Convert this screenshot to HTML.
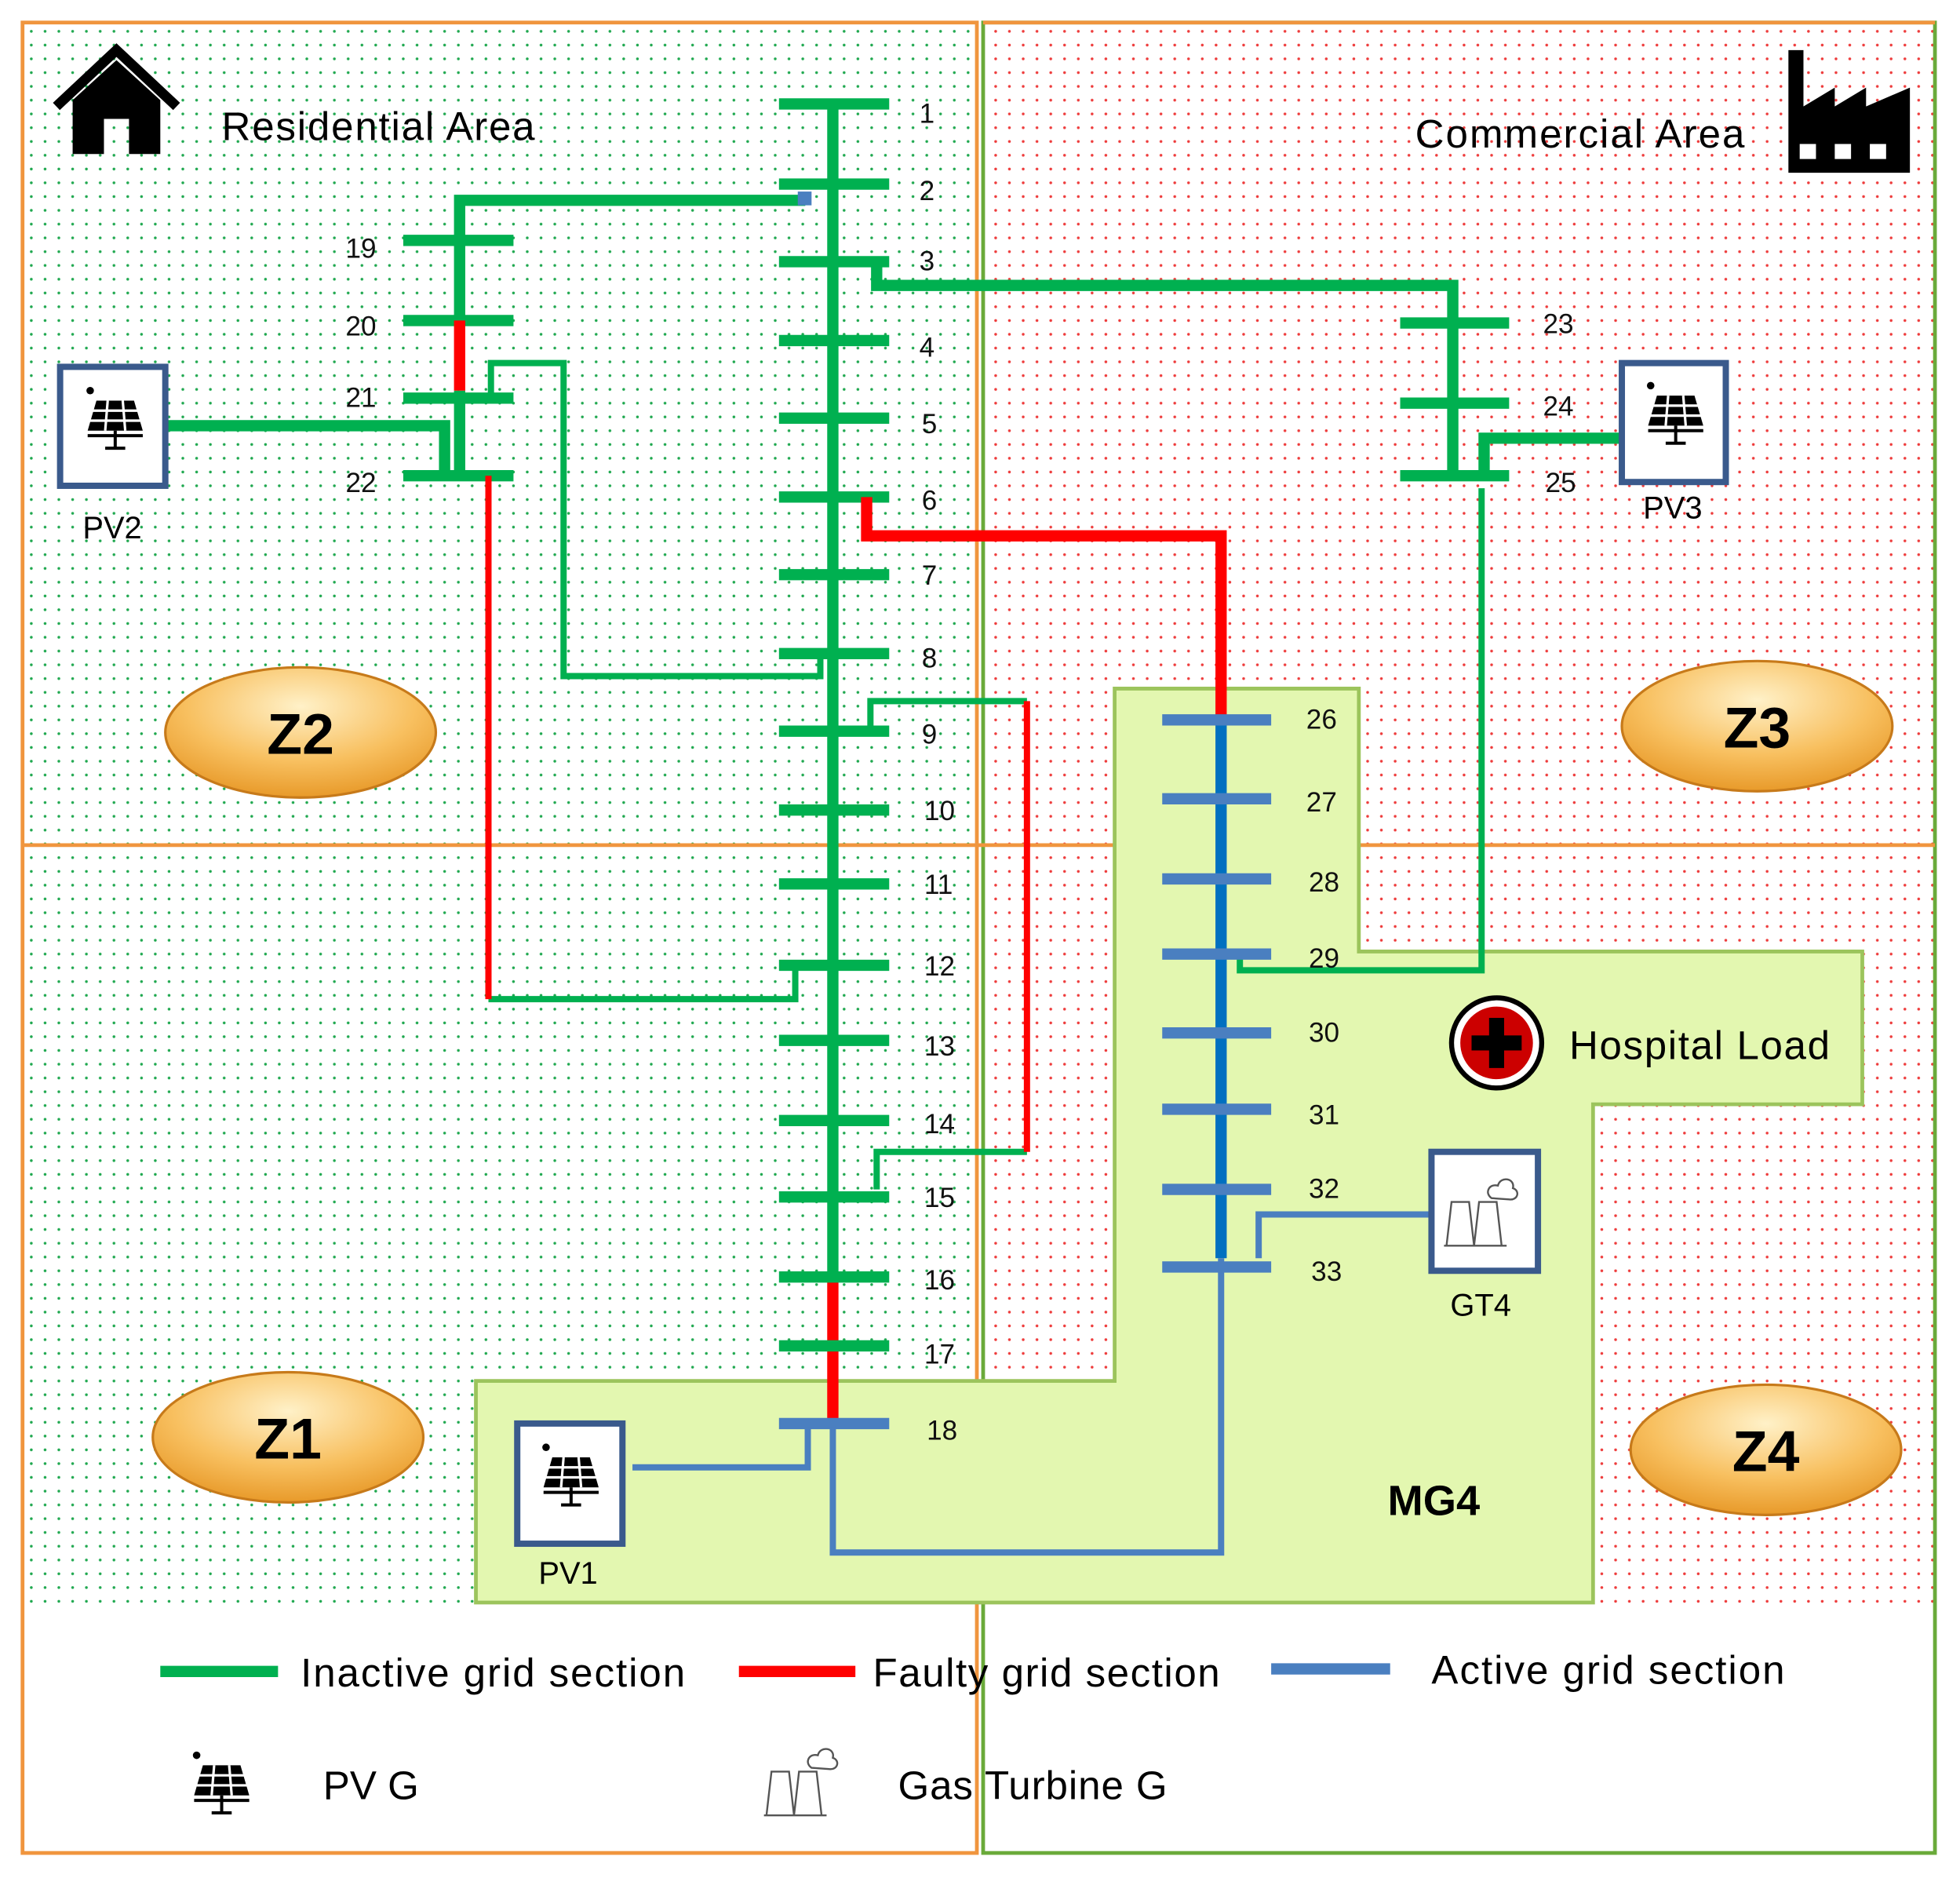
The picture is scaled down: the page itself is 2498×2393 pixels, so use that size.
<!DOCTYPE html>
<html><head><meta charset="utf-8"><style>
html,body{margin:0;padding:0;background:#fff}
svg{display:block}
text{font-family:"Liberation Sans",sans-serif}
</style></head><body>
<svg width="2498" height="2393" viewBox="0 0 1565 1500" preserveAspectRatio="none" xmlns="http://www.w3.org/2000/svg">
<defs>
<pattern id="gd" width="11" height="11" patternUnits="userSpaceOnUse"><rect width="11" height="11" fill="#fff"/><circle cx="3" cy="3" r="1.1" fill="#1fa84f"/></pattern>
<pattern id="rd" width="11" height="11" patternUnits="userSpaceOnUse"><rect width="11" height="11" fill="#fff"/><circle cx="3" cy="3" r="1.1" fill="#ee3b3b"/></pattern>
<radialGradient id="og" cx="50%" cy="30%" r="70%"><stop offset="0" stop-color="#fff1c8"/><stop offset="0.6" stop-color="#f8c060"/><stop offset="1" stop-color="#e89a2a"/></radialGradient>
<g id="pv"><circle cx="-20" cy="-20" r="3" fill="#000"/><path d="M-15,-12 L15,-12 L22,12 L-22,12 Z" fill="#000"/><path d="M-18,-4 H18 M-20,4 H20 M-6,-12 L-8,12 M6,-12 L8,12" stroke="#fff" stroke-width="2"/><path d="M-22,16 H22 M0,12 V26 M-8,26 H8" stroke="#000" stroke-width="2.5"/></g>
<g id="gt" fill="none" stroke="#555" stroke-width="1.5"><path d="M-28,30 L-24,-5 L-10,-5 L-6,30 M-6,30 L-2,-5 L12,-5 L16,30 M-30,30 H20"/><path d="M8,-8 c-6,-4 -2,-12 5,-10 c2,-8 14,-6 12,2 c6,2 4,10 -3,9 Z"/></g>
</defs>
<rect x="18" y="18" width="762" height="657" fill="url(#gd)"/>
<rect x="18" y="675" width="762" height="610" fill="url(#gd)"/>
<rect x="785" y="18" width="760" height="657" fill="url(#rd)"/>
<rect x="785" y="675" width="760" height="610" fill="url(#rd)"/>
<rect x="18" y="1285" width="1527" height="195" fill="#fff"/>
<rect x="18" y="18" width="762" height="1462" fill="none" stroke="#f0953e" stroke-width="3"/>
<rect x="785" y="18" width="760" height="1462" fill="none" stroke="#6aaa3a" stroke-width="3"/>
<line x1="785" y1="18" x2="1545" y2="18" stroke="#f0953e" stroke-width="3"/>
<line x1="18" y1="675" x2="1545" y2="675" stroke="#f0953e" stroke-width="3"/>
<polygon points="890,550 1085,550 1085,760 1487,760 1487,882 1272,882 1272,1280 380,1280 380,1103 890,1103" fill="#e3f7b0" stroke="#9cc45c" stroke-width="3"/>
<path d="M45,85 L93,40 L141,85" fill="none" stroke="#000" stroke-width="8"/>
<path d="M58,80 L93,48 L128,80 V123 H103 V95 H83 V123 H58 Z" fill="#000"/>
<text x="177" y="112" font-size="32" textLength="250">Residential Area</text>
<path d="M1428,40 H1440 V85 L1465,70 V85 L1490,70 V85 L1525,70 V138 H1428 Z" fill="#000"/>
<rect x="1437" y="115" width="13" height="12" fill="#fff"/><rect x="1465" y="115" width="13" height="12" fill="#fff"/><rect x="1493" y="115" width="13" height="12" fill="#fff"/>
<text x="1130" y="118" font-size="32" textLength="263">Commercial Area</text>
<g fill="none" stroke-linecap="butt">
<line x1="665" y1="83" x2="665" y2="1020" stroke="#00b050" stroke-width="9"/>
<line x1="665" y1="1020" x2="665" y2="1137" stroke="#ff0000" stroke-width="9"/>
<g stroke="#00b050" stroke-width="9">
<path d="M622,83H710M622,147H710M622,209H710M622,272H710M622,334H710M622,397H710M622,459H710M622,522H710M622,584H710M622,647H710M622,706H710M622,771H710M622,831H710M622,895H710M622,956H710M622,1020H710M622,1075H710"/>
<path d="M643,160H367V256"/>
<path d="M322,192H410M322,256H410M322,318H410M322,380H410"/>
<path d="M367,312V380"/>
<path d="M132,340H355V380"/>
<path d="M700,209V228H1160V380"/>
<path d="M1118,258H1205M1118,322H1205M1118,380H1205"/>
<path d="M1295,350H1185V380"/>
</g>
<line x1="367" y1="256" x2="367" y2="312" stroke="#ff0000" stroke-width="9"/>
<rect x="637" y="153" width="11" height="11" fill="#4a7fc0" stroke="none"/>
<path d="M622,1137H710" stroke="#4a7fc0" stroke-width="9"/>
<g stroke="#00b050" stroke-width="5">
<path d="M392,318V290H450V540H655V525"/>
<path d="M390,798H635V771"/>
<path d="M695,584V560H820"/>
<path d="M820,920H700V950"/>
<path d="M1183,390V775H990V765"/>
</g>
<g stroke="#ff0000" stroke-width="5"><path d="M390,380V798"/><path d="M820,560V920"/></g>
<path d="M692,397V428H975V575" stroke="#ff0000" stroke-width="9"/>
<line x1="975" y1="575" x2="975" y2="1005" stroke="#0070c0" stroke-width="9"/>
<g stroke="#4a7fc0" stroke-width="9"><path d="M928,575H1015M928,638H1015M928,702H1015M928,762H1015M928,825H1015M928,886H1015M928,950H1015M928,1012H1015"/></g>
<g stroke="#4a7fc0" stroke-width="5">
<path d="M975,1005V1240H665V1140"/>
<path d="M505,1172H645V1140"/>
<path d="M1143,970H1005V1005"/>
</g>
</g>
<g font-size="22" fill="#111">
<text x="734" y="98">1</text><text x="734" y="160">2</text><text x="734" y="216">3</text><text x="734" y="285">4</text><text x="736" y="346">5</text><text x="736" y="407">6</text><text x="736" y="467">7</text><text x="736" y="533">8</text><text x="736" y="594">9</text><text x="738" y="655">10</text><text x="738" y="714">11</text><text x="738" y="779">12</text><text x="738" y="843">13</text><text x="738" y="905">14</text><text x="738" y="964">15</text><text x="738" y="1030">16</text><text x="738" y="1089">17</text><text x="740" y="1150">18</text>
<text x="276" y="206">19</text><text x="276" y="268">20</text><text x="276" y="325">21</text><text x="276" y="393">22</text>
<text x="1232" y="266">23</text><text x="1232" y="332">24</text><text x="1234" y="393">25</text>
<text x="1043" y="582">26</text><text x="1043" y="648">27</text><text x="1045" y="712">28</text><text x="1045" y="773">29</text><text x="1045" y="832">30</text><text x="1045" y="898">31</text><text x="1045" y="957">32</text><text x="1047" y="1023">33</text>
</g>
<rect x="48" y="293" width="84" height="95" fill="#fff" stroke="#3a5a8c" stroke-width="5"/><use href="#pv" x="92" y="332"/>
<text x="66" y="430" font-size="25">PV2</text>
<rect x="1295" y="290" width="83" height="95" fill="#fff" stroke="#3a5a8c" stroke-width="5"/><use href="#pv" x="1338" y="328"/>
<text x="1312" y="414" font-size="25">PV3</text>
<rect x="413" y="1137" width="84" height="96" fill="#fff" stroke="#3a5a8c" stroke-width="5"/><use href="#pv" x="456" y="1176"/>
<text x="430" y="1265" font-size="25">PV1</text>
<rect x="1143" y="920" width="85" height="95" fill="#fff" stroke="#3a5a8c" stroke-width="5"/><use href="#gt" x="1183" y="965"/>
<text x="1158" y="1051" font-size="25">GT4</text>
<circle cx="1195" cy="833" r="36" fill="#fff" stroke="#000" stroke-width="4"/>
<circle cx="1195" cy="833" r="29" fill="#cc0000"/>
<path d="M1195,813V853M1175,833H1215" stroke="#000" stroke-width="12"/>
<text x="1253" y="846" font-size="32" textLength="208">Hospital Load</text>
<text x="1108" y="1210" font-size="34" font-weight="bold">MG4</text>
<g font-size="46" font-weight="bold" text-anchor="middle">
<ellipse cx="240" cy="585" rx="108" ry="52" fill="url(#og)" stroke="#c77a1a" stroke-width="2"/><text x="240" y="602">Z2</text>
<ellipse cx="1403" cy="580" rx="108" ry="52" fill="url(#og)" stroke="#c77a1a" stroke-width="2"/><text x="1403" y="597">Z3</text>
<ellipse cx="230" cy="1148" rx="108" ry="52" fill="url(#og)" stroke="#c77a1a" stroke-width="2"/><text x="230" y="1165">Z1</text>
<ellipse cx="1410" cy="1158" rx="108" ry="52" fill="url(#og)" stroke="#c77a1a" stroke-width="2"/><text x="1410" y="1175">Z4</text>
</g>
<line x1="128" y1="1335" x2="222" y2="1335" stroke="#00b050" stroke-width="9"/>
<text x="240" y="1347" font-size="32" textLength="307">Inactive grid section</text>
<line x1="590" y1="1335" x2="683" y2="1335" stroke="#ff0000" stroke-width="9"/>
<text x="697" y="1347" font-size="32" textLength="277">Faulty grid section</text>
<line x1="1015" y1="1333" x2="1110" y2="1333" stroke="#4a7fc0" stroke-width="9"/>
<text x="1143" y="1345" font-size="32" textLength="282">Active grid section</text>
<use href="#pv" x="177" y="1422"/>
<text x="258" y="1437" font-size="32">PV G</text>
<use href="#gt" x="640" y="1420"/>
<text x="717" y="1437" font-size="32" textLength="215">Gas Turbine G</text>
</svg>
</body></html>
